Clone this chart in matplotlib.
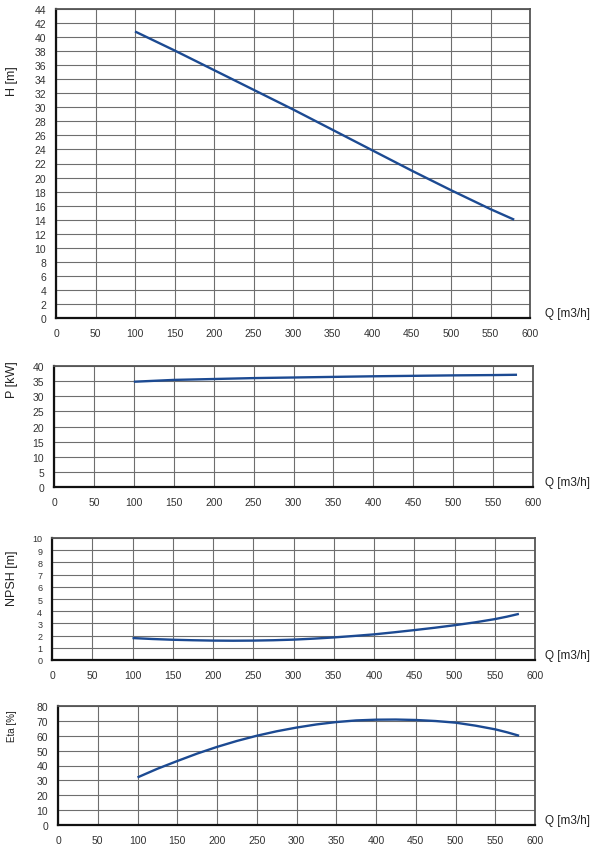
import matplotlib
matplotlib.use("Agg")
import matplotlib.pyplot as plt
import numpy as np

plt.rcParams['font.family'] = ['Liberation Sans', 'DejaVu Sans']

# ---- data ----
q_h = [100, 150, 200, 250, 300, 350, 400, 450, 500, 550, 580]
head = [40.8, 38.1, 35.3, 32.5, 29.7, 26.8, 23.9, 21.0, 18.2, 15.5, 14.0]

q_p = [100, 150, 200, 250, 300, 350, 400, 450, 500, 550, 580]
power = [34.8, 35.4, 35.7, 36.0, 36.2, 36.4, 36.6, 36.75, 36.9, 37.0, 37.1]

q_n = [100, 125, 150, 175, 200, 225, 250, 275, 300, 325, 350, 375, 400,
       425, 450, 475, 500, 525, 550, 565, 580]
npsh = [1.8, 1.72, 1.66, 1.62, 1.59, 1.58, 1.59, 1.62, 1.67, 1.75, 1.85,
        1.97, 2.1, 2.27, 2.45, 2.64, 2.85, 3.08, 3.35, 3.55, 3.78]

q_e = [100, 125, 150, 175, 200, 225, 250, 275, 300, 325, 350, 375, 400,
       425, 450, 475, 500, 525, 550, 565, 580]
eta = [32.0, 37.8, 43.0, 48.0, 52.5, 56.5, 60.0, 63.0, 65.5, 67.6, 69.2,
       70.3, 70.8, 70.9, 70.6, 69.9, 68.8, 66.8, 64.3, 62.3, 60.0]

x_ticks = list(range(0, 601, 50))
panels = [
    # (q, y, ymax, ystep, ylabel, rect px (l, r, t, b), label y center px, label size, ytick size)
    (q_h, head, 44, 2, "H [m]", (56, 530, 10, 319), 81, 9, 7.5),
    (q_p, power, 40, 5, "P [kW]", (54, 533, 367, 488), 380, 9, 7.5),
    (q_n, npsh, 10, 1, "NPSH [m]", (52, 535, 539, 661), 578, 9, 6.5),
    (q_e, eta, 80, 10, "Eta [%]", (58, 535, 707, 826), 726, 7, 7.5),
]

W, H = 600, 854
fig = plt.figure(figsize=(W / 100, H / 100), dpi=100)
line_color = '#1c4a92'

for q, y, ymax, ystep, ylab, (l, r, t, b), ly, lsize, ytsize in panels:
    ax = fig.add_axes([l / W, (H - b) / H, (r - l) / W, (b - t) / H])
    ax.set_xlim(0, 600)
    ax.set_ylim(0, ymax)
    ax.set_xticks(x_ticks)
    ax.set_yticks(np.arange(0, ymax + ystep / 2, ystep))
    ax.grid(True, color='#6e6e6e', linewidth=0.8)
    ax.set_axisbelow(True)
    ax.tick_params(axis='both', length=0, colors='#333333')
    ax.tick_params(axis='x', labelsize=7.5, pad=7)
    ax.tick_params(axis='y', labelsize=ytsize, pad=7)
    for s in ['top', 'right']:
        ax.spines[s].set_color('#555555')
        ax.spines[s].set_linewidth(1.3)
    for s in ['left', 'bottom']:
        ax.spines[s].set_color('#111111')
        ax.spines[s].set_linewidth(1.6)
    ax.plot(q, y, color=line_color, linewidth=1.7, solid_capstyle='butt',
            solid_joinstyle='round')
    fig.text(545 / W, 1 - (b - 5) / H, "Q [m3/h]", fontsize=8.5, ha='left', va='center', color='#222222')
    fig.text(12 / W, 1 - ly / H, ylab, fontsize=lsize, rotation=90, ha='center', va='center', color='#222222')

fig.savefig("out.png", dpi=100)
